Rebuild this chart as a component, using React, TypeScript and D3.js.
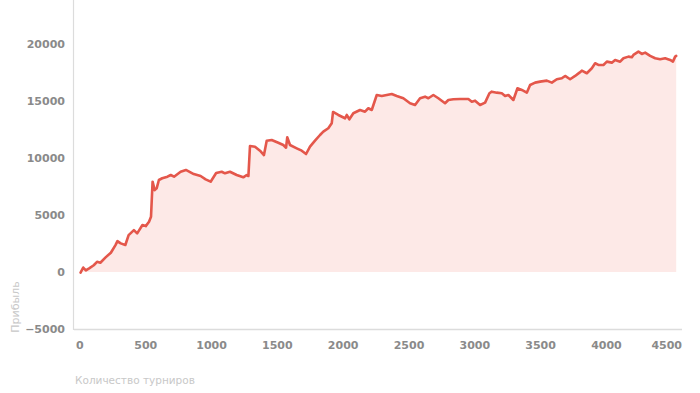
import React from "react";
import * as d3 from "d3";

const tournaments: number[] = [
  5, 25, 45, 70, 105, 130, 155, 195, 235, 270, 285, 310, 345, 370, 410, 435, 475, 500, 525, 540,
  552, 568, 583, 600, 625, 665, 690, 715, 765, 805, 865, 917, 955, 993, 1035, 1077, 1102, 1140, 1191, 1241,
  1267, 1280, 1292, 1330, 1368, 1398, 1419, 1457, 1507, 1545, 1566, 1575, 1596, 1647, 1685, 1718, 1748, 1786, 1824, 1849,
  1887, 1913, 1923, 1963, 2014, 2027, 2047, 2077, 2128, 2166, 2191, 2217, 2255, 2293, 2331, 2369, 2407, 2457, 2508, 2546,
  2584, 2622, 2647, 2685, 2723, 2774, 2799, 2837, 2888, 2951, 2977, 3002, 3040, 3078, 3111, 3129, 3167, 3205, 3230, 3255,
  3293, 3324, 3357, 3395, 3420, 3458, 3496, 3547, 3585, 3623, 3661, 3686, 3724, 3762, 3795, 3813, 3851, 3889, 3914, 3939,
  3977, 4003, 4041, 4066, 4104, 4129, 4167, 4193, 4205, 4243, 4269, 4294, 4332, 4370, 4408, 4446, 4484, 4505, 4522, 4530,
];

const profit: number[] = [
  -50, 400, 150, 330, 600, 900, 820, 1290, 1700, 2370, 2720, 2520, 2380, 3250, 3690, 3400, 4130, 4040, 4420, 4860,
  7940, 7200, 7360, 8090, 8240, 8380, 8530, 8380, 8820, 8970, 8610, 8440, 8150, 7940, 8700, 8816, 8676, 8816, 8526, 8324,
  8526, 8440, 11075, 11014, 10663, 10284, 11541, 11603, 11365, 11163, 10926, 11840, 11163, 10873, 10663, 10372, 11014, 11541, 12042, 12332,
  12631, 13071, 14064, 13800, 13510, 13800, 13422, 13950, 14240, 14090, 14389, 14240, 15558, 15470, 15558, 15646, 15470, 15268, 14829, 14679,
  15268, 15409, 15268, 15558, 15268, 14829, 15119, 15180, 15207, 15207, 14970, 15058, 14680, 14882, 15708, 15849, 15761, 15708, 15470, 15558,
  15119, 16147, 15998, 15761, 16437, 16640, 16728, 16815, 16640, 16939, 17027, 17228, 16939, 17228, 17518, 17694, 17466, 17905, 18345, 18195,
  18195, 18485, 18397, 18635, 18485, 18784, 18925, 18872, 19074, 19364, 19162, 19276, 18986, 18784, 18696, 18784, 18635, 18485, 18925, 18986,
];

const xTicks: number[] = [0, 500, 1000, 1500, 2000, 2500, 3000, 3500, 4000, 4500];
const yTicks: number[] = [-5000, 0, 5000, 10000, 15000, 20000];
const xTitle = "Количество турниров";
const yTitle = "Прибыль";

export default function App() {
  const W = 700;
  const H = 393;
  const left = 74;
  const right = 682;
  const top = 0;
  const bottom = 329;

  const x = d3.scaleLinear().domain([-45, 4574]).range([left, right]);
  const y = d3.scaleLinear().domain([-5000, 23900]).range([bottom, top]);

  const pts: [number, number][] = tournaments.map((t, i) => [t, profit[i]]);
  const line = d3
    .line<[number, number]>()
    .x((d) => x(d[0]))
    .y((d) => y(d[1]))
    .curve(d3.curveLinear);
  const area = d3
    .area<[number, number]>()
    .x((d) => x(d[0]))
    .y0(() => y(0))
    .y1((d) => y(d[1]))
    .curve(d3.curveLinear);

  const tickFont = "'DejaVu Sans', Verdana, sans-serif";

  return (
    <svg
      width={W}
      height={H}
      style={{ position: "absolute", left: 0, top: 0, background: "#fff" }}
    >
      <rect x={0} y={0} width={W} height={H} fill="#fff" />
      <path d={area(pts) || ""} fill="#fde9e7" />
      <line x1={left - 0.5} x2={left - 0.5} y1={top} y2={bottom + 1} stroke="#dcdcdc" strokeWidth={1.2} />
      <line x1={left} x2={right} y1={bottom + 0.5} y2={bottom + 0.5} stroke="#dcdcdc" strokeWidth={1.5} />
      <path
        d={line(pts) || ""}
        fill="none"
        stroke="#e4574b"
        strokeWidth={2.6}
        strokeLinejoin="round"
        strokeLinecap="round"
      />
      {yTicks.map((t) => (
        <text
          key={"y" + t}
          x={65}
          y={y(t)}
          dy="0.36em"
          textAnchor="end"
          fontFamily={tickFont}
          fontWeight="bold"
          fontSize={11}
          fill="#8a8a8a"
        >
          {t === -5000 ? "−5000" : String(t)}
        </text>
      ))}
      {xTicks.map((t) => {
        const label = String(t);
        const half = (label.length * 7) / 2;
        const px = x(t);
        const overflow = px + half > right;
        return (
          <text
            key={"x" + t}
            x={overflow ? right : px}
            y={345}
            dy="0.36em"
            textAnchor={overflow ? "end" : "middle"}
            fontFamily={tickFont}
            fontWeight="bold"
            fontSize={11}
            fill="#8a8a8a"
          >
            {label}
          </text>
        );
      })}
      <text
        x={75}
        y={380}
        dy="0.36em"
        textAnchor="start"
        fontFamily={tickFont}
        fontSize={10.5}
        fill="#c8c8c8"
      >
        {xTitle}
      </text>
      <text
        transform={`translate(15, 307) rotate(-90)`}
        dy="0.36em"
        textAnchor="middle"
        fontFamily={tickFont}
        fontSize={11}
        fill="#c8c8c8"
      >
        {yTitle}
      </text>
    </svg>
  );
}
